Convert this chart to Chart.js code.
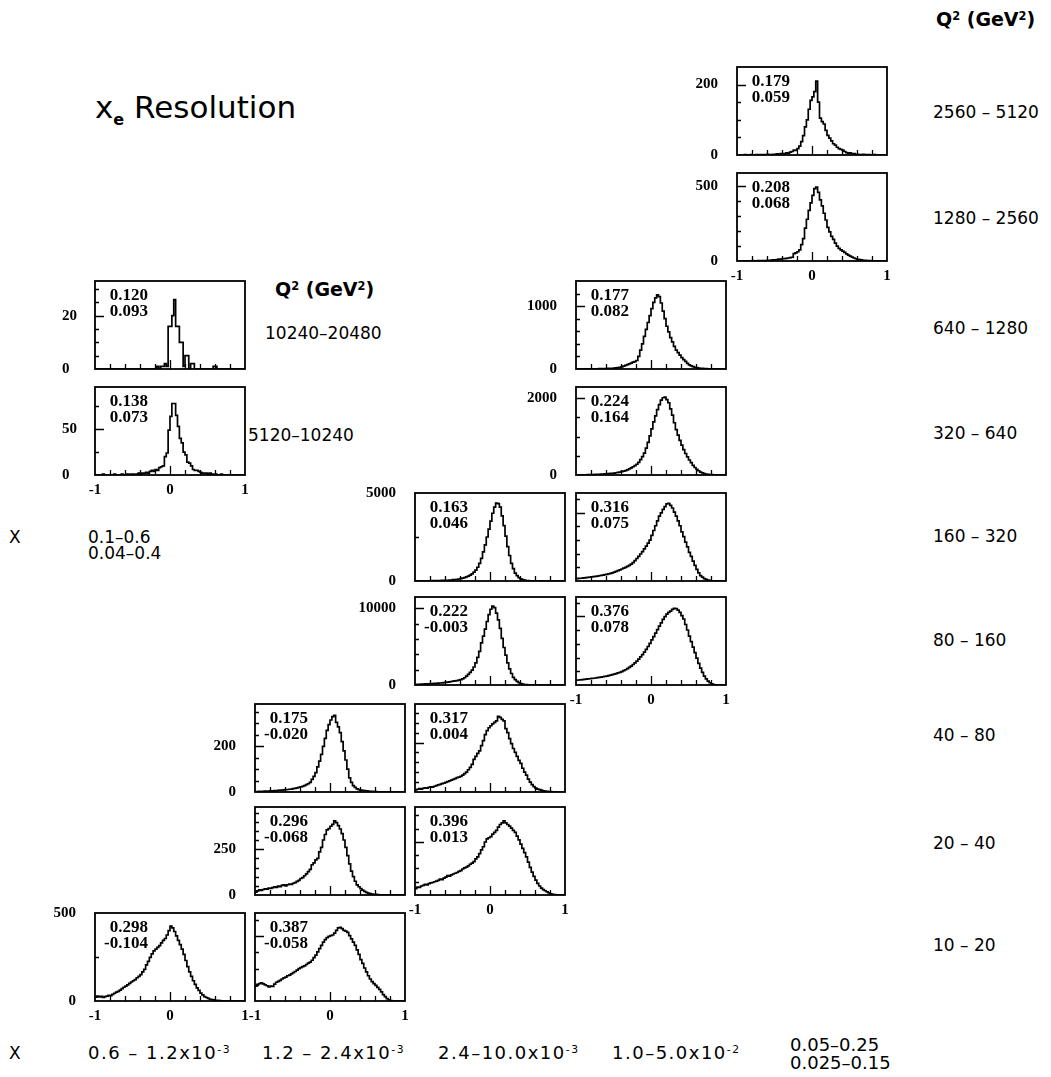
<!DOCTYPE html>
<html>
<head>
<meta charset="utf-8">
<script src="https://cdn.jsdelivr.net/npm/chart.js@4.4.0/dist/chart.umd.min.js"></script>
<style>
  body { margin: 0; background: #fff; width: 1051px; height: 1077px; position: relative; overflow: hidden;
         font-family: "DejaVu Sans", sans-serif; color: #000; }
  canvas { position: absolute; }
  .lbl { position: absolute; font-size: 17px; white-space: nowrap; line-height: 1; }
  .lbl sup { font-size: 0.6em; vertical-align: 0.55em; line-height: 0; }
  .q2 { font-size: 19px; font-weight: bold; }
  .xb { font-size: 18px; letter-spacing: 1.5px; }
  .num { position: absolute; width: 70px; text-align: right; font: bold 17px "Liberation Serif", serif; line-height: 16px; }
</style>
</head>
<body>
<div class="lbl q2" style="left:936px;top:10px">Q<sup>2</sup> (GeV<sup>2</sup>)</div>
<div class="lbl" style="left:95px;top:92px;font-size:31px">x<sub style="font-size:16px;font-weight:bold">e</sub> Resolution</div>
<div class="lbl q2" style="left:275px;top:280px">Q<sup>2</sup> (GeV<sup>2</sup>)</div>
<div class="lbl" style="left:265px;top:325px">10240–20480</div>
<div class="lbl" style="left:248px;top:427px">5120–10240</div>
<div class="lbl" style="left:9px;top:529px">X</div>
<div class="lbl" style="left:88px;top:529px">0.1–0.6</div>
<div class="lbl" style="left:88px;top:545px">0.04–0.4</div>

<div class="lbl" style="left:933px;top:104px">2560 – 5120</div>
<div class="lbl" style="left:933px;top:210px">1280 – 2560</div>
<div class="lbl" style="left:933px;top:320px">640 – 1280</div>
<div class="lbl" style="left:933px;top:425px">320 – 640</div>
<div class="lbl" style="left:933px;top:528px">160 – 320</div>
<div class="lbl" style="left:933px;top:632px">80 – 160</div>
<div class="lbl" style="left:933px;top:727px">40 – 80</div>
<div class="lbl" style="left:933px;top:835px">20 – 40</div>
<div class="lbl" style="left:933px;top:937px">10 – 20</div>

<div class="lbl" style="left:9px;top:1045px">X</div>
<div class="lbl xb" style="left:88px;top:1044px">0.6 – 1.2x10<sup>-3</sup></div>
<div class="lbl xb" style="left:262px;top:1044px">1.2 – 2.4x10<sup>-3</sup></div>
<div class="lbl xb" style="left:438px;top:1044px">2.4–10.0x10<sup>-3</sup></div>
<div class="lbl xb" style="left:612px;top:1044px">1.0–5.0x10<sup>-2</sup></div>
<div class="lbl" style="left:790px;top:1036px;font-size:18px">0.05–0.25</div>
<div class="lbl" style="left:790px;top:1054px;font-size:18px">0.025–0.15</div>

<script>
// lower bin edges of every histogram (x_e resolution, -1 .. 1, 80 bins)
const binLow = [
  -1.000,-0.975,-0.950,-0.925,-0.900,-0.875,-0.850,-0.825,-0.800,-0.775,
  -0.750,-0.725,-0.700,-0.675,-0.650,-0.625,-0.600,-0.575,-0.550,-0.525,
  -0.500,-0.475,-0.450,-0.425,-0.400,-0.375,-0.350,-0.325,-0.300,-0.275,
  -0.250,-0.225,-0.200,-0.175,-0.150,-0.125,-0.100,-0.075,-0.050,-0.025,
   0.000, 0.025, 0.050, 0.075, 0.100, 0.125, 0.150, 0.175, 0.200, 0.225,
   0.250, 0.275, 0.300, 0.325, 0.350, 0.375, 0.400, 0.425, 0.450, 0.475,
   0.500, 0.525, 0.550, 0.575, 0.600, 0.625, 0.650, 0.675, 0.700, 0.725,
   0.750, 0.775, 0.800, 0.825, 0.850, 0.875, 0.900, 0.925, 0.950, 0.975];

// bin contents  (name: Q2 low edge x column)
const q2560x5 = [0,0,0,0,1,0,0,1,0,0, 1,0,1,0,1,1,2,1,1,2, 2,3,2,4,4,3,6,5,8,10,
                 14,13,18,25,38,55,80,100,130,155, 165,180,210,150,105,95,88,70,56,48,
                 40,32,28,22,18,16,14,10,7,5, 6,3,4,2,2,1,1,2,1,0, 1,0,0,1,0,0,0,0,0,0];
const q1280x5 = [0,0,0,1,0,0,1,0,2,1, 1,2,3,2,2,3,4,5,6,7, 8,10,12,12,15,16,18,20,22,25,
                 50,55,62,75,110,150,220,280,340,390, 440,485,496,460,410,370,320,275,225,195,
                 165,145,120,100,85,75,66,58,48,40, 33,26,20,15,11,9,7,5,4,3, 2,2,1,1,1,0,1,0,0,0];
const q10240x1 = [0,0,0,0,0,0,0,0,0,0, 0,0,0,0,0,0,0,0,0,0, 0,0,0,0,0,0,0,0,0,0,
                  0,0,0,1,0,1,1,2,1,16, 16,20,26,16,16,10,10,1,5,5,
                  0,2,2,0,0,0,0,0,0,0, 0,0,0,1,1,0,0,0,0,0, 0,0,0,0,0,0,0,0,0,0];
const q5120x1 = [0,0,0,0,1,0,0,0,0,0, 1,0,0,0,1,0,0,1,0,1, 1,0,1,2,1,2,2,3,2,4,
                 5,4,6,5,8,9,10,20,24,49, 64,78,78,65,53,40,35,25,22,14,
                 13,10,6,5,5,4,3,2,2,2, 1,2,1,0,1,0,0,1,0,0, 0,0,0,0,0,0,0,0,0,0];
const q640x4 = [0,0,0,1,1,2,2,2,3,3, 4,4,5,5,6,7,8,9,10,12, 14,18,22,27,35,45,58,70,82,95,
                108,118,135,200,300,400,520,630,740,850, 960,1060,1130,1178,1150,1050,920,800,680,590,
                500,430,360,300,260,220,180,150,120,90, 65,50,38,28,22,16,12,9,7,5, 4,3,2,2,1,1,0,1,0,0];
const q320x4 = [3,4,4,5,6,7,8,9,10,12, 14,16,18,21,24,27,31,35,40,45, 50,58,66,76,88,100,115,135,160,185,
                215,245,280,330,400,480,570,700,850,1020, 1200,1380,1540,1700,1830,1950,2010,2030,1960,1880,
                1720,1560,1360,1180,1040,900,780,660,560,470, 390,320,250,195,150,110,75,55,38,26, 18,12,8,5,4,2,2,1,1,0];
const q160x3 = [5,6,7,8,9,10,11,12,14,16, 18,20,23,26,30,34,38,43,50,58, 75,85,100,115,135,160,190,230,280,330,
                400,500,620,780,1000,1280,1650,2050,2500,2950, 3400,3850,4200,4430,4400,4200,3700,3150,2550,1950,
                1450,1000,700,450,300,190,120,75,45,28, 18,11,7,5,3,2,2,1,1,1, 1,0,0,0,0,0,0,0,0,0];
const q160x4 = [170,190,200,215,230,245,260,280,300,320, 340,360,385,410,435,460,490,520,560,600,
                650,700,760,820,880,940,1000,1070,1150,1230, 1350,1500,1650,1800,1980,2150,2350,2550,2780,3000,
                3350,3700,4050,4400,4750,5000,5250,5450,5650,5700, 5550,5350,5050,4750,4400,4050,3600,3250,2850,2500,
                2100,1800,1450,1150,850,600,400,280,180,120, 70,40,20,10,5,2,0,0,0,0];
const q80x3 = [80,90,100,110,120,135,150,160,175,185, 200,220,240,260,280,300,330,380,420,460,
               500,540,580,640,700,800,950,1150,1400,1650, 1950,2350,2900,3600,4400,5500,6400,7300,8300,9200,
               9900,10300,10100,9400,8500,7400,6100,4900,3900,2900, 2100,1500,1000,700,480,300,190,110,65,40,
               25,15,9,5,3,2,1,1,0,0, 0,0,0,0,0,0,0,0,0,0];
const q80x4 = [700,730,760,790,820,850,880,910,950,980, 1020,1060,1100,1150,1200,1250,1300,1360,1430,1500,
               1580,1660,1750,1850,1960,2080,2220,2380,2560,2760, 2980,3220,3480,3760,4080,4420,4780,5180,5600,6050,
               6550,7050,7550,8050,8550,9050,9550,9950,10300,10550, 10750,11000,11150,11100,10900,10550,10100,9600,8800,8000,
               7100,6300,5500,4700,3900,3150,2450,1850,1300,900, 560,330,160,60,15,0,0,0,0,0];
const q40x2 = [1,2,3,2,3,4,3,4,5,4, 6,5,7,8,7,9,10,11,12,13, 15,16,18,20,22,25,28,32,36,42,
               55,68,85,110,135,165,200,235,270,295, 315,330,335,305,285,260,220,180,140,100,
               62,42,28,20,14,10,8,7,6,5, 4,3,3,2,2,1,1,1,0,1, 0,0,1,0,0,0,0,0,0,0];
const q40x3 = [20,28,35,30,38,42,40,48,52,50, 58,65,72,78,85,90,98,105,112,120, 128,135,145,150,158,170,185,200,225,250,
               280,330,360,390,415,470,520,580,620,650, 670,690,705,720,765,755,735,720,640,600,
               540,490,440,400,360,320,290,240,200,170, 130,100,75,55,40,30,24,18,12,9, 7,5,3,2,1,0,0,0,0,0];
const q20x2 = [15,22,28,25,30,34,32,38,36,40, 44,42,48,46,52,55,50,56,60,58, 64,68,74,80,90,95,105,115,128,140,
               165,175,192,200,235,260,300,330,355,362, 375,385,405,395,378,360,335,300,260,215,
               170,130,100,75,55,45,35,27,20,14, 10,7,5,4,3,2,1,1,0,0, 0,0,0,0,0,0,0,0,0,0];
const q20x3 = [60,75,72,85,90,100,95,108,115,118, 125,130,138,150,145,160,168,182,178,190,
               198,205,212,222,230,245,255,262,275,290, 300,315,340,360,390,425,455,500,530,540,
               550,575,590,610,640,665,680,700,680,665, 650,630,610,590,555,520,480,440,400,360,
               310,260,215,175,140,110,85,65,50,40, 30,20,12,6,3,1,0,0,0,0];
const q10x1 = [22,28,24,26,20,25,28,32,30,38, 44,50,55,62,70,78,85,92,100,108, 115,122,132,140,150,165,180,205,225,248,
               268,285,295,305,315,330,345,355,375,400, 425,415,395,370,345,320,295,265,230,195,
               165,140,115,95,75,60,45,35,25,20, 15,10,8,6,4,3,2,1,1,0, 0,0,0,0,0,0,0,0,0,0];
const q10x2 = [115,128,135,140,132,125,118,108,115,112, 130,145,152,160,170,178,185,195,200,210,
               220,228,238,250,258,265,272,282,292,300, 315,335,355,380,405,430,455,475,490,500,
               505,510,525,545,565,570,560,545,540,530, 505,480,455,430,395,360,320,290,255,225,
               195,170,150,135,120,105,90,70,50,34, 18,8,3,0,0,0,0,0,0,0];

// the two numbers printed in each panel (same order as panels below)
const statTop = ["0.179","0.208","0.120","0.138","0.177","0.224","0.163","0.316","0.222","0.376","0.175","0.317","0.296","0.396","0.298","0.387"];
const statBot = ["0.059","0.068","0.093","0.073","0.082","0.164","0.046","0.075","-0.003","0.078","-0.020","0.004","-0.068","0.013","-0.104","-0.058"];

const xTickLabels = [-1, 0, 1];

// frame position, y range, tick steps and which labels are shown
const panels = [
  { left: 737, top: 67,  data: q2560x5,  ymax: 250,   minor: 50,   major: 200,   yLab: true,  xLab: false },
  { left: 737, top: 173, data: q1280x5,  ymax: 590,   minor: 100,  major: 500,   yLab: true,  xLab: true },
  { left: 95,  top: 281, data: q10240x1, ymax: 33,    minor: 5,    major: 20,    yLab: true,  xLab: false, axisW: 33 },
  { left: 95,  top: 387, data: q5120x1,  ymax: 96,    minor: 25,   major: 50,    yLab: true,  xLab: true,  axisW: 33 },
  { left: 576, top: 281, data: q640x4,   ymax: 1400,  minor: 200,  major: 1000,  yLab: true,  xLab: false },
  { left: 576, top: 387, data: q320x4,   ymax: 2290,  minor: 500,  major: 2000,  yLab: true,  xLab: false },
  { left: 415, top: 493, data: q160x3,   ymax: 5000,  minor: 2500, major: 5000,  yLab: true,  xLab: false },
  { left: 576, top: 493, data: q160x4,   ymax: 6450,  minor: 1000, major: 5000,  yLab: false, xLab: false },
  { left: 415, top: 597, data: q80x3,    ymax: 11500, minor: 2000, major: 10000, yLab: true,  xLab: false },
  { left: 576, top: 597, data: q80x4,    ymax: 12800, minor: 2000, major: 10000, yLab: false, xLab: true },
  { left: 255, top: 704, data: q40x2,    ymax: 385,   minor: 50,   major: 200,   yLab: true,  xLab: false },
  { left: 415, top: 704, data: q40x3,    ymax: 890,   minor: 100,  major: 500,   yLab: false, xLab: false },
  { left: 255, top: 807, data: q20x2,    ymax: 480,   minor: 50,   major: 250,   yLab: true,  xLab: false },
  { left: 415, top: 807, data: q20x3,    ymax: 830,   minor: 125,  major: 500,   yLab: false, xLab: true },
  { left: 95,  top: 913, data: q10x1,    ymax: 500,   minor: 250,  major: 500,   yLab: true,  xLab: true },
  { left: 255, top: 913, data: q10x2,    ymax: 680,   minor: 125,  major: 500,   yLab: false, xLab: true },
];

const W = 150, H = 88, LEFT = 60, PAD_T = 10, PAD_R = 12, BOT = 28;
const serif = '"Liberation Serif", "Times New Roman", serif';

// box around the plot plus the small inward tick marks
const framePlugin = {
  id: "frame",
  afterDatasetsDraw(chart, args, opts) {
    const { ctx, chartArea: a, scales: { x, y } } = chart;
    ctx.save();
    ctx.strokeStyle = "#000";
    ctx.lineWidth = 1.8;
    ctx.strokeRect(a.left, a.top, a.right - a.left, a.bottom - a.top);
    ctx.lineWidth = 1.3;
    ctx.beginPath();
    for (let k = -4; k <= 4; k++) {
      const px = Math.round(x.getPixelForValue(k * 0.2)) + 0.5;
      ctx.moveTo(px, a.bottom);
      ctx.lineTo(px, a.bottom - (k === 0 ? 9 : 5));
    }
    for (let v = opts.minor; v < y.max - 1e-9; v += opts.minor) {
      const py = Math.round(y.getPixelForValue(v)) + 0.5;
      ctx.moveTo(a.left, py);
      ctx.lineTo(a.left + (Math.abs(v - opts.major) < 1e-9 ? 9 : 4), py);
    }
    ctx.stroke();
    ctx.restore();
  },
};

panels.forEach((p, i) => {
  const aw = p.axisW || LEFT;
  const cv = document.createElement("canvas");
  cv.width = aw + W + PAD_R;
  cv.height = PAD_T + H + BOT;
  cv.style.left = (p.left - aw) + "px";
  cv.style.top = (p.top - PAD_T) + "px";
  document.body.appendChild(cv);

  const pts = binLow.map((x, j) => ({ x, y: p.data[j] }));
  pts.push({ x: 1, y: p.data[p.data.length - 1] });

  new Chart(cv.getContext("2d"), {
    type: "line",
    data: {
      datasets: [{
        data: pts,
        stepped: true,
        borderColor: "#000",
        borderWidth: 1.7,
        pointRadius: 0,
        fill: false,
      }],
    },
    options: {
      responsive: false,
      animation: false,
      events: [],
      layout: { padding: { top: PAD_T, right: PAD_R, left: 0, bottom: 0 } },
      plugins: {
        legend: { display: false },
        tooltip: { enabled: false },
        frame: { minor: p.minor, major: p.major },
      },
      scales: {
        x: {
          type: "linear", min: -1, max: 1,
          grid: { display: false, drawTicks: false }, border: { display: false },
          afterBuildTicks: (ax) => { ax.ticks = p.xLab ? xTickLabels.map((v) => ({ value: v })) : []; },
          afterFit: (ax) => { ax.height = BOT; ax.paddingLeft = 0; ax.paddingRight = 0; },
          ticks: {
            display: p.xLab, color: "#000", padding: 6, maxRotation: 0, autoSkip: false,
            font: { family: serif, weight: "bold", size: 15 },
            callback: (v) => String(v),
          },
        },
        y: {
          min: 0, max: p.ymax,
          grid: { display: false, drawTicks: false }, border: { display: false },
          afterBuildTicks: (ax) => { ax.ticks = p.yLab ? [0, p.major].map((v) => ({ value: v })) : []; },
          afterFit: (ax) => { ax.width = aw; ax.paddingTop = 0; ax.paddingBottom = 0; },
          ticks: {
            display: p.yLab, color: "#000", padding: 19,
            crossAlign: p.axisW ? "far" : "near",
            font: { family: serif, weight: "bold", size: 15 },
            callback: (v) => String(v),
          },
        },
      },
    },
    plugins: [framePlugin],
  });

  const txt = document.createElement("div");
  txt.className = "num";
  txt.style.left = (p.left + 53 - 70) + "px";
  txt.style.top = (p.top + 6) + "px";
  txt.innerHTML = statTop[i] + "<br>" + statBot[i];
  document.body.appendChild(txt);
});
</script>
</body>
</html>
